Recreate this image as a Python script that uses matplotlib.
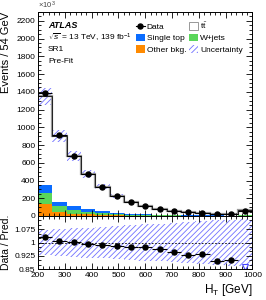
import numpy as np
import matplotlib
matplotlib.use("Agg")
from matplotlib import pyplot as plt
from matplotlib.patches import Patch
from matplotlib.lines import Line2D
from matplotlib.ticker import MultipleLocator, FixedLocator

plt.rcParams['font.family'] = ['Liberation Sans', 'DejaVu Sans']
plt.rcParams['mathtext.fontset'] = 'custom'
plt.rcParams['mathtext.rm'] = 'Liberation Sans'
plt.rcParams['mathtext.it'] = 'Liberation Sans:italic'
plt.rcParams['hatch.linewidth'] = 0.6

# HT binning, 15 bins from 200 to 1000 GeV
ht_lo, ht_hi, nbins = 200, 1000, 15

data = [1390, 910, 680, 470, 325, 225, 155, 108, 78, 55, 40, 30, 22, 18, 55]
ttbar = [993, 740, 565, 394, 274, 191, 132, 91, 66, 47, 34, 25, 18.5, 15, 52]
single_top = [95, 50, 41, 30, 23, 16, 12, 9, 7, 5, 4, 3, 3, 2, 6]
wjets = [120, 65, 44, 30, 20, 14, 10, 7, 5, 4, 3, 3, 2, 2, 5]
other_bkg = [140, 45, 28, 20, 12, 8, 5, 4, 3, 2, 2, 1, 1, 1, 3]
rel_unc = [0.072, 0.076, 0.080, 0.085, 0.089, 0.093, 0.098, 0.102,
           0.107, 0.111, 0.116, 0.120, 0.125, 0.130, 0.135]

c_top = '#0a6cff'
c_wj = '#5ad65a'
c_oth = '#ff8a00'
c_unc = '#7070ff'

edges = np.linspace(ht_lo, ht_hi, nbins + 1)
centers = 0.5 * (edges[1:] + edges[:-1])
halfw = 0.5 * (edges[1:] - edges[:-1])

data = np.array(data)
oth = np.array(other_bkg)
wj = oth + np.array(wjets)
st = wj + np.array(single_top)
pred = st + np.array(ttbar)
unc = np.array(rel_unc)
ratio = data / pred

fig = plt.figure(figsize=(2.66, 3.0), dpi=100)
ax = fig.add_axes([0.143, 0.28, 0.806, 0.68])
rax = fig.add_axes([0.143, 0.103, 0.806, 0.177], sharex=ax)

# main panel
ax.stairs(oth, edges, baseline=0, fill=True, color=c_oth, lw=0)
ax.stairs(wj, edges, baseline=oth, fill=True, color=c_wj, lw=0)
ax.stairs(st, edges, baseline=wj, fill=True, color=c_top, lw=0)
ax.stairs(pred, edges, baseline=st, fill=True, facecolor='white', lw=0)
ax.stairs(pred * (1 + unc), edges, baseline=pred * (1 - unc), fill=True,
          facecolor='none', edgecolor=c_unc, hatch='//////', lw=0)
ax.stairs(pred, edges, baseline=None, color='#999999', lw=1.6)
ax.stairs(pred, edges, baseline=None, color='#222222', lw=0.7)
ax.errorbar(centers, data, xerr=halfw, fmt='o', color='black', ms=3.6,
            elinewidth=0.8, capsize=0)

ax.set_xlim(ht_lo, ht_hi)
ax.set_ylim(0, 2300)
ax.set_ylabel('Events / 54 GeV', fontsize=8, loc='top')
ax.yaxis.set_label_coords(-0.125, 1.0)
ax.yaxis.set_major_locator(MultipleLocator(200))
ax.yaxis.set_minor_locator(MultipleLocator(50))
ax.xaxis.set_major_locator(MultipleLocator(100))
ax.xaxis.set_minor_locator(MultipleLocator(20))
ax.tick_params(labelbottom=False)
for a in (ax, rax):
    a.tick_params(which='both', direction='in', top=True, right=True, labelsize=6, pad=2)
    a.tick_params(which='major', length=4, width=0.6)
    a.tick_params(which='minor', length=2, width=0.6)
    for s in a.spines.values():
        s.set_linewidth(0.7)

fig.text(0.143, 0.963, r'$\times10^3$', fontsize=5.5, ha='left', va='bottom', color='#444444')
ax.text(0.047, 0.936, 'ATLAS', transform=ax.transAxes, fontsize=6.5,
        fontweight='bold', fontstyle='italic', va='center')
ax.text(0.047, 0.873, r'$\sqrt{s}$ = 13 TeV, 139 fb$^{-1}$', transform=ax.transAxes,
        fontsize=6, va='center')
ax.text(0.047, 0.814, 'SR1', transform=ax.transAxes, fontsize=6, va='center')
ax.text(0.047, 0.757, 'Pre-Fit', transform=ax.transAxes, fontsize=6, va='center')

handles = [
    Line2D([], [], marker='o', color='black', ms=3.6, lw=0.8),
    Patch(facecolor=c_top),
    Patch(facecolor=c_oth),
    Patch(facecolor='white', edgecolor='#888888', lw=0.6),
    Patch(facecolor=c_wj),
    Patch(facecolor='white', edgecolor=c_unc, hatch='//////', lw=0),
]
labels = ['Data', 'Single top', 'Other bkg.', r'$\mathrm{t\bar{t}}$', 'W+jets', 'Uncertainty']
ax.legend(handles, labels, ncol=2, loc='upper left', bbox_to_anchor=(0.44, 0.975),
          frameon=False, fontsize=6, handlelength=1.1, handleheight=1.0,
          handletextpad=0.2, columnspacing=0.35, labelspacing=0.35, borderaxespad=0)

# ratio panel
rax.stairs(1 + unc, edges, baseline=1 - unc, fill=True, facecolor='none',
           edgecolor=c_unc, hatch='//////', lw=0)
rax.axhline(1, color='black', ls=(0, (2, 2)), lw=0.6)
r_lo, r_hi = 0.85, 1.15
inside = ratio >= r_lo
rax.errorbar(centers[inside], ratio[inside], xerr=halfw[inside], fmt='o',
             color='black', ms=3.6, elinewidth=0.8, capsize=0)
rax.plot(centers[~inside], np.full((~inside).sum(), r_lo + 0.012), 'v',
         mfc='white', mec='#4444ff', ms=4, mew=0.8)
rax.set_ylim(r_lo, r_hi)
rax.yaxis.set_major_locator(FixedLocator([0.85, 0.925, 1.0, 1.075]))
rax.yaxis.set_major_formatter(plt.FuncFormatter(lambda v, p: f'{v:g}'))
rax.yaxis.set_minor_locator(MultipleLocator(0.025))
rax.set_ylabel('Data / Pred.', fontsize=7.5)
rax.yaxis.set_label_coords(-0.125, 0.5)
rax.set_xlabel(r'H$_\mathregular{T}$ [GeV]', fontsize=8.5, loc='right', labelpad=2)

fig.savefig('out.png', dpi=100)
